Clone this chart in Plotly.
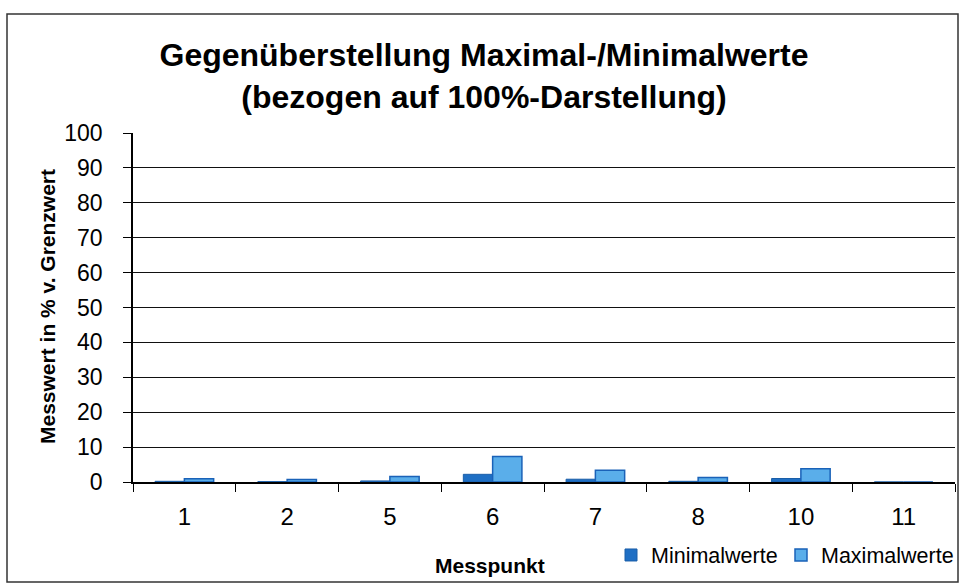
import plotly.graph_objects as go

categories = ["1", "2", "5", "6", "7", "8", "10", "11"]
min_values = [0.2, 0.1, 0.3, 2.2, 0.8, 0.2, 1.0, 0.0]
max_values = [0.9, 0.7, 1.6, 7.3, 3.4, 1.3, 3.8, 0.0]
y_ticks = [0, 10, 20, 30, 40, 50, 60, 70, 80, 90, 100]

FONT = "Liberation Sans, Arial, sans-serif"

fig = go.Figure()
fig.add_trace(go.Bar(
    x=categories, y=min_values, name="Minimalwerte", legend="legend",
    marker=dict(color="#1f6fc4", line=dict(color="#1a5ea8", width=1)),
))
fig.add_trace(go.Bar(
    x=categories, y=max_values, name="Maximalwerte", legend="legend2",
    marker=dict(color="#5aaeea", line=dict(color="#1a62b8", width=1.5)),
))

L, R, T, B = 133, 4, 133, 102
W, H = 959, 584
pw, ph = W - L - R, H - T - B

def px(x):
    return (x - L) / pw

def py(y):
    return (H - B - y) / ph

leg_common = dict(
    orientation="h", y=py(555), xanchor="left", yanchor="middle",
    font=dict(size=21.5, family=FONT), itemwidth=30, bgcolor="rgba(0,0,0,0)",
)

fig.update_layout(
    width=W, height=H,
    margin=dict(l=L, r=R, t=T, b=B, autoexpand=False),
    paper_bgcolor="white", plot_bgcolor="white",
    font=dict(family=FONT, color="black"),
    barmode="group", bargap=0.43, bargroupgap=0,
    showlegend=True,
    legend=dict(x=px(611), **leg_common),
    legend2=dict(x=px(781), **leg_common),
    title=dict(
        text="<b>Gegenüberstellung Maximal-/Minimalwerte<br>(bezogen auf 100%-Darstellung)</b>",
        x=484 / W, xanchor="center", y=1 - 66 / H, yanchor="middle",
        font=dict(size=32, family=FONT),
    ),
    xaxis=dict(
        type="category", showgrid=False, showline=True, linecolor="black", linewidth=1.5,
        ticks="outside", tickson="boundaries", ticklen=8, tickcolor="black",
        tickfont=dict(size=24, family=FONT), ticklabelstandoff=12,
    ),
    yaxis=dict(
        range=[0, 100], tickvals=y_ticks, showgrid=True, gridcolor="#111", gridwidth=1.4,
        showline=True, linecolor="black", linewidth=1.5,
        ticks="outside", ticklen=8, tickcolor="black",
        tickfont=dict(size=23, family=FONT), ticklabelstandoff=16,
        zeroline=False,
    ),
    annotations=[
        dict(text="<b>Messwert in % v. Grenzwert</b>", x=px(47), y=py(307),
             xref="paper", yref="paper", textangle=-90, showarrow=False,
             font=dict(size=21, family=FONT), xanchor="center", yanchor="middle"),
        dict(text="<b>Messpunkt</b>", x=px(490), y=py(565),
             xref="paper", yref="paper", showarrow=False,
             font=dict(size=21, family=FONT), xanchor="center", yanchor="middle"),
    ],
    shapes=[
        dict(type="rect", xref="paper", yref="paper",
             x0=px(7), x1=px(958), y0=py(582), y1=py(14),
             line=dict(color="#333", width=1.5), fillcolor="rgba(0,0,0,0)", layer="below"),
    ],
)

fig.write_html("out.html", config={"displayModeBar": False},
               post_script="document.body.style.margin='0';")
